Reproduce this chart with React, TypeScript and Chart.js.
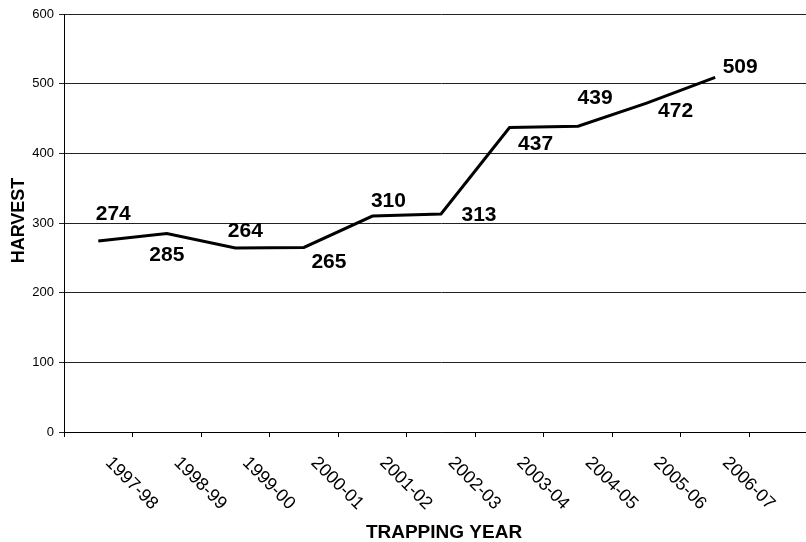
import React, { useEffect, useRef } from "react";
import { Chart, registerables } from "chart.js";

Chart.register(...registerables);

const years = ["1997-98", "1998-99", "1999-00", "2000-01", "2001-02", "2002-03", "2003-04", "2004-05", "2005-06", "2006-07"];
const harvest = [274, 285, 264, 265, 310, 313, 437, 439, 472, 509];
const yTicks = [0, 100, 200, 300, 400, 500, 600];
const xTitle = "TRAPPING YEAR";
const yTitle = "HARVEST";

const FONT = "'Liberation Sans', Arial, sans-serif";
// data label placement relative to each point (px)
const labelOffsets: [number, number][] = [
  [15, -29], [0, 20], [10, -19], [25, 13], [16, -17],
  [38, 0], [26, 15], [17, -30], [29, 6], [25, -12],
];

const textPlugin = {
  id: "customText",
  afterDraw(chart: any) {
    const ctx = chart.ctx as CanvasRenderingContext2D;
    const meta = chart.getDatasetMeta(0);
    const xs = chart.scales.x;
    const area = chart.chartArea;
    ctx.save();
    ctx.fillStyle = "#000";
    // data labels
    const ls = 21;
    ctx.font = `bold ${ls}px ${FONT}`;
    ctx.textAlign = "center";
    ctx.textBaseline = "alphabetic";
    meta.data.forEach((pt: any, i: number) => {
      const [dx, dy] = labelOffsets[i];
      ctx.fillText(String(harvest[i]), pt.x + dx, pt.y + dy + 0.358 * ls);
    });
    // x tick labels rotated clockwise
    const ts = 18;
    ctx.font = `${ts}px ${FONT}`;
    ctx.textAlign = "left";
    years.forEach((lab, i) => {
      const cx = xs.getPixelForValue(i);
      ctx.save();
      ctx.translate(cx + 11, area.bottom + 27);
      ctx.rotate(Math.PI / 4);
      ctx.fillText(lab, 0, 0.358 * ts);
      ctx.restore();
    });
    // x title
    const xt = 19;
    ctx.font = `bold ${xt}px ${FONT}`;
    ctx.textAlign = "center";
    ctx.fillText(xTitle, 444, 531.5 + 0.358 * xt);
    // y title
    const yt = 18;
    ctx.font = `bold ${yt}px ${FONT}`;
    ctx.save();
    ctx.translate(17.5, 220.5);
    ctx.rotate(-Math.PI / 2);
    ctx.fillText(yTitle, 0, 0.358 * yt);
    ctx.restore();
    ctx.restore();
  },
};

export default function App() {
  const ref = useRef<HTMLCanvasElement | null>(null);
  useEffect(() => {
    const canvas = ref.current;
    if (!canvas) return;
    const chart = new Chart(canvas, {
      type: "line",
      data: {
        labels: [...years, ""],
        datasets: [
          {
            data: harvest,
            borderColor: "#000",
            borderWidth: 3,
            pointRadius: 0,
            tension: 0,
            fill: false,
          },
        ],
      },
      options: {
        responsive: false,
        animation: false,
        devicePixelRatio: 1,
        layout: { padding: { top: 14, left: 0, right: 0, bottom: 0 } },
        plugins: {
          legend: { display: false },
          tooltip: { enabled: false },
          title: { display: false },
        },
        scales: {
          x: {
            type: "category",
            offset: true,
            grid: {
              offset: true,
              drawOnChartArea: false,
              drawTicks: true,
              tickLength: 5,
              color: "#000",
              lineWidth: 1,
            },
            border: { display: true, color: "#000", width: 1 },
            ticks: { display: false },
            afterFit: (s: any) => {
              s.height = 110;
            },
          },
          y: {
            min: 0,
            max: 600,
            afterBuildTicks: (s: any) => {
              s.ticks = yTicks.map((v) => ({ value: v }));
            },
            grid: { color: "#222", lineWidth: 1, tickLength: 5, drawTicks: true },
            border: { display: true, color: "#000", width: 1 },
            ticks: { font: { family: FONT, size: 13 }, color: "#000", padding: 5 },
            afterFit: (s: any) => {
              s.width = 64;
            },
          },
        },
      } as any,
      plugins: [textPlugin],
    });
    return () => chart.destroy();
  }, []);
  return (
    <div
      style={{
        position: "fixed",
        left: 0,
        top: 0,
        width: 806,
        height: 542,
        overflow: "hidden",
        background: "#fff",
      }}
    >
      <canvas ref={ref} width={818} height={542} style={{ display: "block" }} />
    </div>
  );
}
